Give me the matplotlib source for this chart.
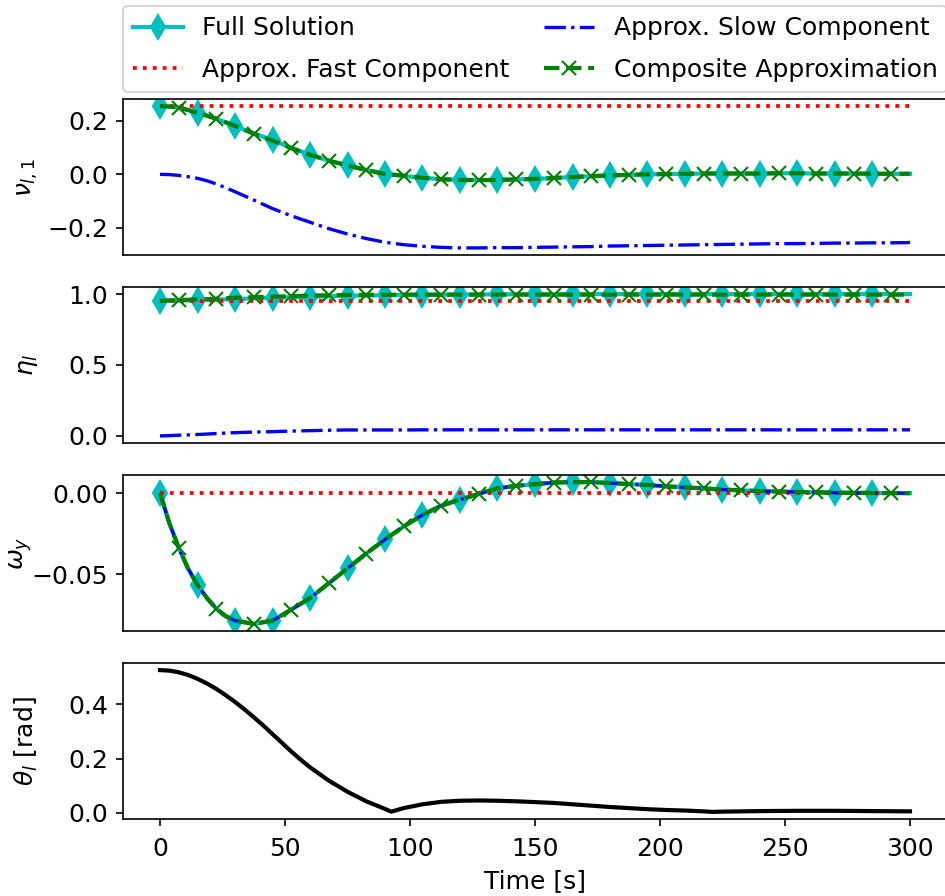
import matplotlib
matplotlib.use("Agg")
import matplotlib.pyplot as plt

plt.rcParams['font.family'] = ['DejaVu Sans']
plt.rcParams['font.size'] = 12

# ---------------- data ----------------
time = [0, 3.75, 7.5, 11.25, 15, 18.75, 22.5, 26.25, 30, 37.5, 45, 52.5, 60, 67.5,
        75, 82.5, 90, 97.5, 105, 112.5, 120, 127.5, 135, 142.5, 150, 157.5, 165,
        172.5, 180, 187.5, 195, 202.5, 210, 217.5, 225, 232.5, 240, 247.5, 255,
        262.5, 270, 277.5, 285, 292.5, 300]
fast_time = [0, 300]

# panel 1: nu_{l,1}
nu_full = [0.255, 0.254, 0.250, 0.241, 0.230, 0.219, 0.208, 0.194, 0.180,
           0.153, 0.128, 0.099, 0.073, 0.051, 0.034, 0.016, 0.002, -0.006, -0.013,
           -0.018, -0.020, -0.021, -0.021, -0.019, -0.017, -0.014, -0.010, -0.007,
           -0.004, -0.002, 0.000, 0.001, 0.002, 0.003, 0.003, 0.003, 0.003, 0.004,
           0.004, 0.003, 0.003, 0.003, 0.002, 0.002, 0.002]
nu_fast = [0.255, 0.255]
nu_slow = [0.000, -0.001, -0.004, -0.009, -0.015, -0.024, -0.036, -0.050, -0.065,
           -0.096, -0.128, -0.155, -0.179, -0.203, -0.223, -0.240, -0.254, -0.263,
           -0.269, -0.273, -0.275, -0.275, -0.274, -0.274, -0.273, -0.272, -0.271,
           -0.270, -0.268, -0.267, -0.266, -0.265, -0.264, -0.263, -0.262, -0.261,
           -0.260, -0.259, -0.259, -0.258, -0.257, -0.257, -0.256, -0.256, -0.255]
nu_comp = [0.255, 0.253, 0.249, 0.240, 0.229, 0.219, 0.208, 0.195, 0.181,
           0.152, 0.126, 0.098, 0.073, 0.051, 0.033, 0.016, 0.001, -0.005, -0.013,
           -0.019, -0.021, -0.022, -0.021, -0.019, -0.017, -0.014, -0.010, -0.007,
           -0.004, -0.002, 0.000, 0.001, 0.002, 0.003, 0.003, 0.003, 0.003, 0.004,
           0.004, 0.003, 0.003, 0.003, 0.002, 0.002, 0.002]

# panel 2: eta_l
eta_full = [0.953, 0.954, 0.955, 0.956, 0.958, 0.959, 0.961, 0.963, 0.965,
            0.970, 0.975, 0.978, 0.981, 0.985, 0.988, 0.990, 0.992, 0.994, 0.995,
            0.996, 0.997, 0.998, 0.998, 0.999, 0.999, 0.999, 1.000, 1.000, 1.000,
            1.000, 1.000, 1.000, 1.000, 1.000, 1.000, 1.000, 1.000, 1.000, 1.000,
            1.000, 1.000, 1.000, 1.000, 1.000, 1.000]
eta_fast = [0.953, 0.953]
eta_slow = [0.000, 0.002, 0.005, 0.007, 0.010, 0.013, 0.017, 0.020, 0.023,
            0.027, 0.030, 0.034, 0.037, 0.040, 0.042, 0.042, 0.042, 0.042, 0.043,
            0.043, 0.043, 0.043, 0.043, 0.043, 0.043, 0.043, 0.043, 0.043, 0.043,
            0.043, 0.043, 0.043, 0.043, 0.043, 0.043, 0.043, 0.043, 0.043, 0.043,
            0.043, 0.043, 0.043, 0.043, 0.043, 0.043]
eta_comp = [0.953, 0.955, 0.958, 0.960, 0.963, 0.965, 0.968, 0.971, 0.974,
            0.978, 0.982, 0.985, 0.989, 0.992, 0.994, 0.995, 0.995, 0.996, 0.996,
            0.996, 0.996, 0.996, 0.996, 0.996, 0.996, 0.996, 0.996, 0.996, 0.996,
            0.996, 0.996, 0.996, 0.996, 0.996, 0.996, 0.996, 0.996, 0.996, 0.996,
            0.996, 0.996, 0.996, 0.996, 0.996, 0.996]

# panel 3: omega_y
om_full = [0.0, -0.0185, -0.0337, -0.0465, -0.0565, -0.0645, -0.0711, -0.0757,
           -0.0785, -0.0805, -0.0785, -0.0717, -0.0646, -0.0555, -0.0463, -0.0372,
           -0.0285, -0.0205, -0.0134, -0.0077, -0.0040, -0.0005, 0.0030, 0.0045,
           0.0055, 0.0065, 0.0068, 0.0068, 0.0062, 0.0056, 0.0050, 0.0042, 0.0035,
           0.0029, 0.0022, 0.0017, 0.0013, 0.0010, 0.0007, 0.0005, 0.0003, 0.0002,
           0.0001, 0.0, 0.0]
om_fast = [0.0, 0.0]
om_slow = [0.0, -0.0185, -0.0337, -0.0465, -0.0565, -0.0645, -0.0711, -0.0757,
           -0.0785, -0.0805, -0.0785, -0.0717, -0.0646, -0.0555, -0.0463, -0.0372,
           -0.0285, -0.0205, -0.0134, -0.0077, -0.0040, -0.0005, 0.0030, 0.0045,
           0.0055, 0.0065, 0.0068, 0.0068, 0.0062, 0.0056, 0.0050, 0.0042, 0.0035,
           0.0029, 0.0022, 0.0017, 0.0013, 0.0010, 0.0007, 0.0005, 0.0003, 0.0002,
           0.0001, 0.0, 0.0]
om_comp = [0.0, -0.0185, -0.0337, -0.0465, -0.0565, -0.0645, -0.0711, -0.0757,
           -0.0785, -0.0805, -0.0785, -0.0717, -0.0646, -0.0555, -0.0463, -0.0372,
           -0.0285, -0.0205, -0.0134, -0.0077, -0.0040, -0.0005, 0.0030, 0.0045,
           0.0055, 0.0065, 0.0068, 0.0068, 0.0062, 0.0056, 0.0050, 0.0042, 0.0035,
           0.0029, 0.0022, 0.0017, 0.0013, 0.0010, 0.0007, 0.0005, 0.0003, 0.0002,
           0.0001, 0.0, 0.0]

# panel 4: theta_l
theta_time = [0, 3.75, 7.5, 11.25, 15, 18.75, 22.5, 26.25, 30, 33.75, 37.5, 41.25,
              45, 48.75, 52.5, 56.25, 60, 67.5, 75, 82.5, 90, 92.5, 97.5, 105,
              112.5, 120, 127.5, 135, 142.5, 150, 157.5, 165, 172.5, 180, 187.5,
              195, 202.5, 210, 217.5, 221, 225, 232.5, 240, 255, 270, 285, 300]
theta = [0.525, 0.523, 0.517, 0.507, 0.493, 0.476, 0.456, 0.433, 0.408, 0.381,
         0.352, 0.322, 0.290, 0.258, 0.226, 0.196, 0.168, 0.119, 0.078, 0.043,
         0.015, 0.005, 0.018, 0.032, 0.041, 0.045, 0.046, 0.045, 0.043, 0.040,
         0.037, 0.032, 0.027, 0.022, 0.018, 0.014, 0.011, 0.009, 0.006, 0.004,
         0.005, 0.006, 0.007, 0.008, 0.008, 0.007, 0.006]

labels = ["Full Solution", "Approx. Fast Component",
          "Approx. Slow Component", "Composite Approximation"]
ylabels = [r"$\nu_{l,1}$", r"$\eta_l$", r"$\omega_y$", r"$\theta_l$ [rad]"]
xticks = [0, 50, 100, 150, 200, 250, 300]

# ---------------- figure ----------------
DPI = 150
W, H = 945, 896
fig = plt.figure(figsize=(W / DPI, H / DPI), dpi=DPI)
left = 122.5 / W
width = 825.0 / W
ax_h = 156 / H
tops = [99, 287, 475, 663]
axes = [fig.add_axes([left, 1 - (t + 156) / H, width, ax_h]) for t in tops]

d_idx = [i for i, t in enumerate(time) if t % 15 == 0 and t < 290]
x_idx = [i for i, t in enumerate(time) if t % 15 == 7.5]

panels = [(nu_full, nu_fast, nu_slow, nu_comp),
          (eta_full, eta_fast, eta_slow, eta_comp),
          (om_full, om_fast, om_slow, om_comp)]
for ax, (full, fast, slow, comp) in zip(axes[:3], panels):
    ax.plot(time, full, color='c', lw=2.0, marker='d', ms=8,
            markevery=d_idx, label=labels[0])
    ax.plot(fast_time, fast, color='r', ls=':', lw=1.8, label=labels[1])
    ax.plot(time, slow, color='b', ls='-.', lw=1.6, label=labels[2])
    ax.plot(time, comp, color='g', ls='--', lw=2.0, marker='x', ms=6.5,
            markevery=x_idx, label=labels[3])

axes[3].plot(theta_time, theta, color='k', lw=2.0)

label_x = [-0.1, -0.1, -0.107, -0.1]
for ax, yl, lx in zip(axes, ylabels, label_x):
    ax.set_ylabel(yl)
    ax.yaxis.set_label_coords(lx, 0.5)
    ax.set_xlim(-15, 315)
    ax.set_xticks(xticks)
for ax in axes[:3]:
    ax.tick_params(axis='x', labelbottom=False, bottom=False)
axes[3].tick_params(axis='x', pad=5)

axes[0].set_yticks([-0.2, 0.0, 0.2])
axes[1].set_yticks([0.0, 0.5, 1.0])
axes[2].set_yticks([-0.05, 0.0])
axes[3].set_yticks([0.0, 0.2, 0.4])
axes[3].set_xlabel("Time [s]")

axes[0].legend(loc='lower left', bbox_to_anchor=(0, 1.045, 1, 0.2), ncol=2,
               mode='expand', borderaxespad=0, labelspacing=0.7)

fig.savefig("out.png", dpi=DPI)
